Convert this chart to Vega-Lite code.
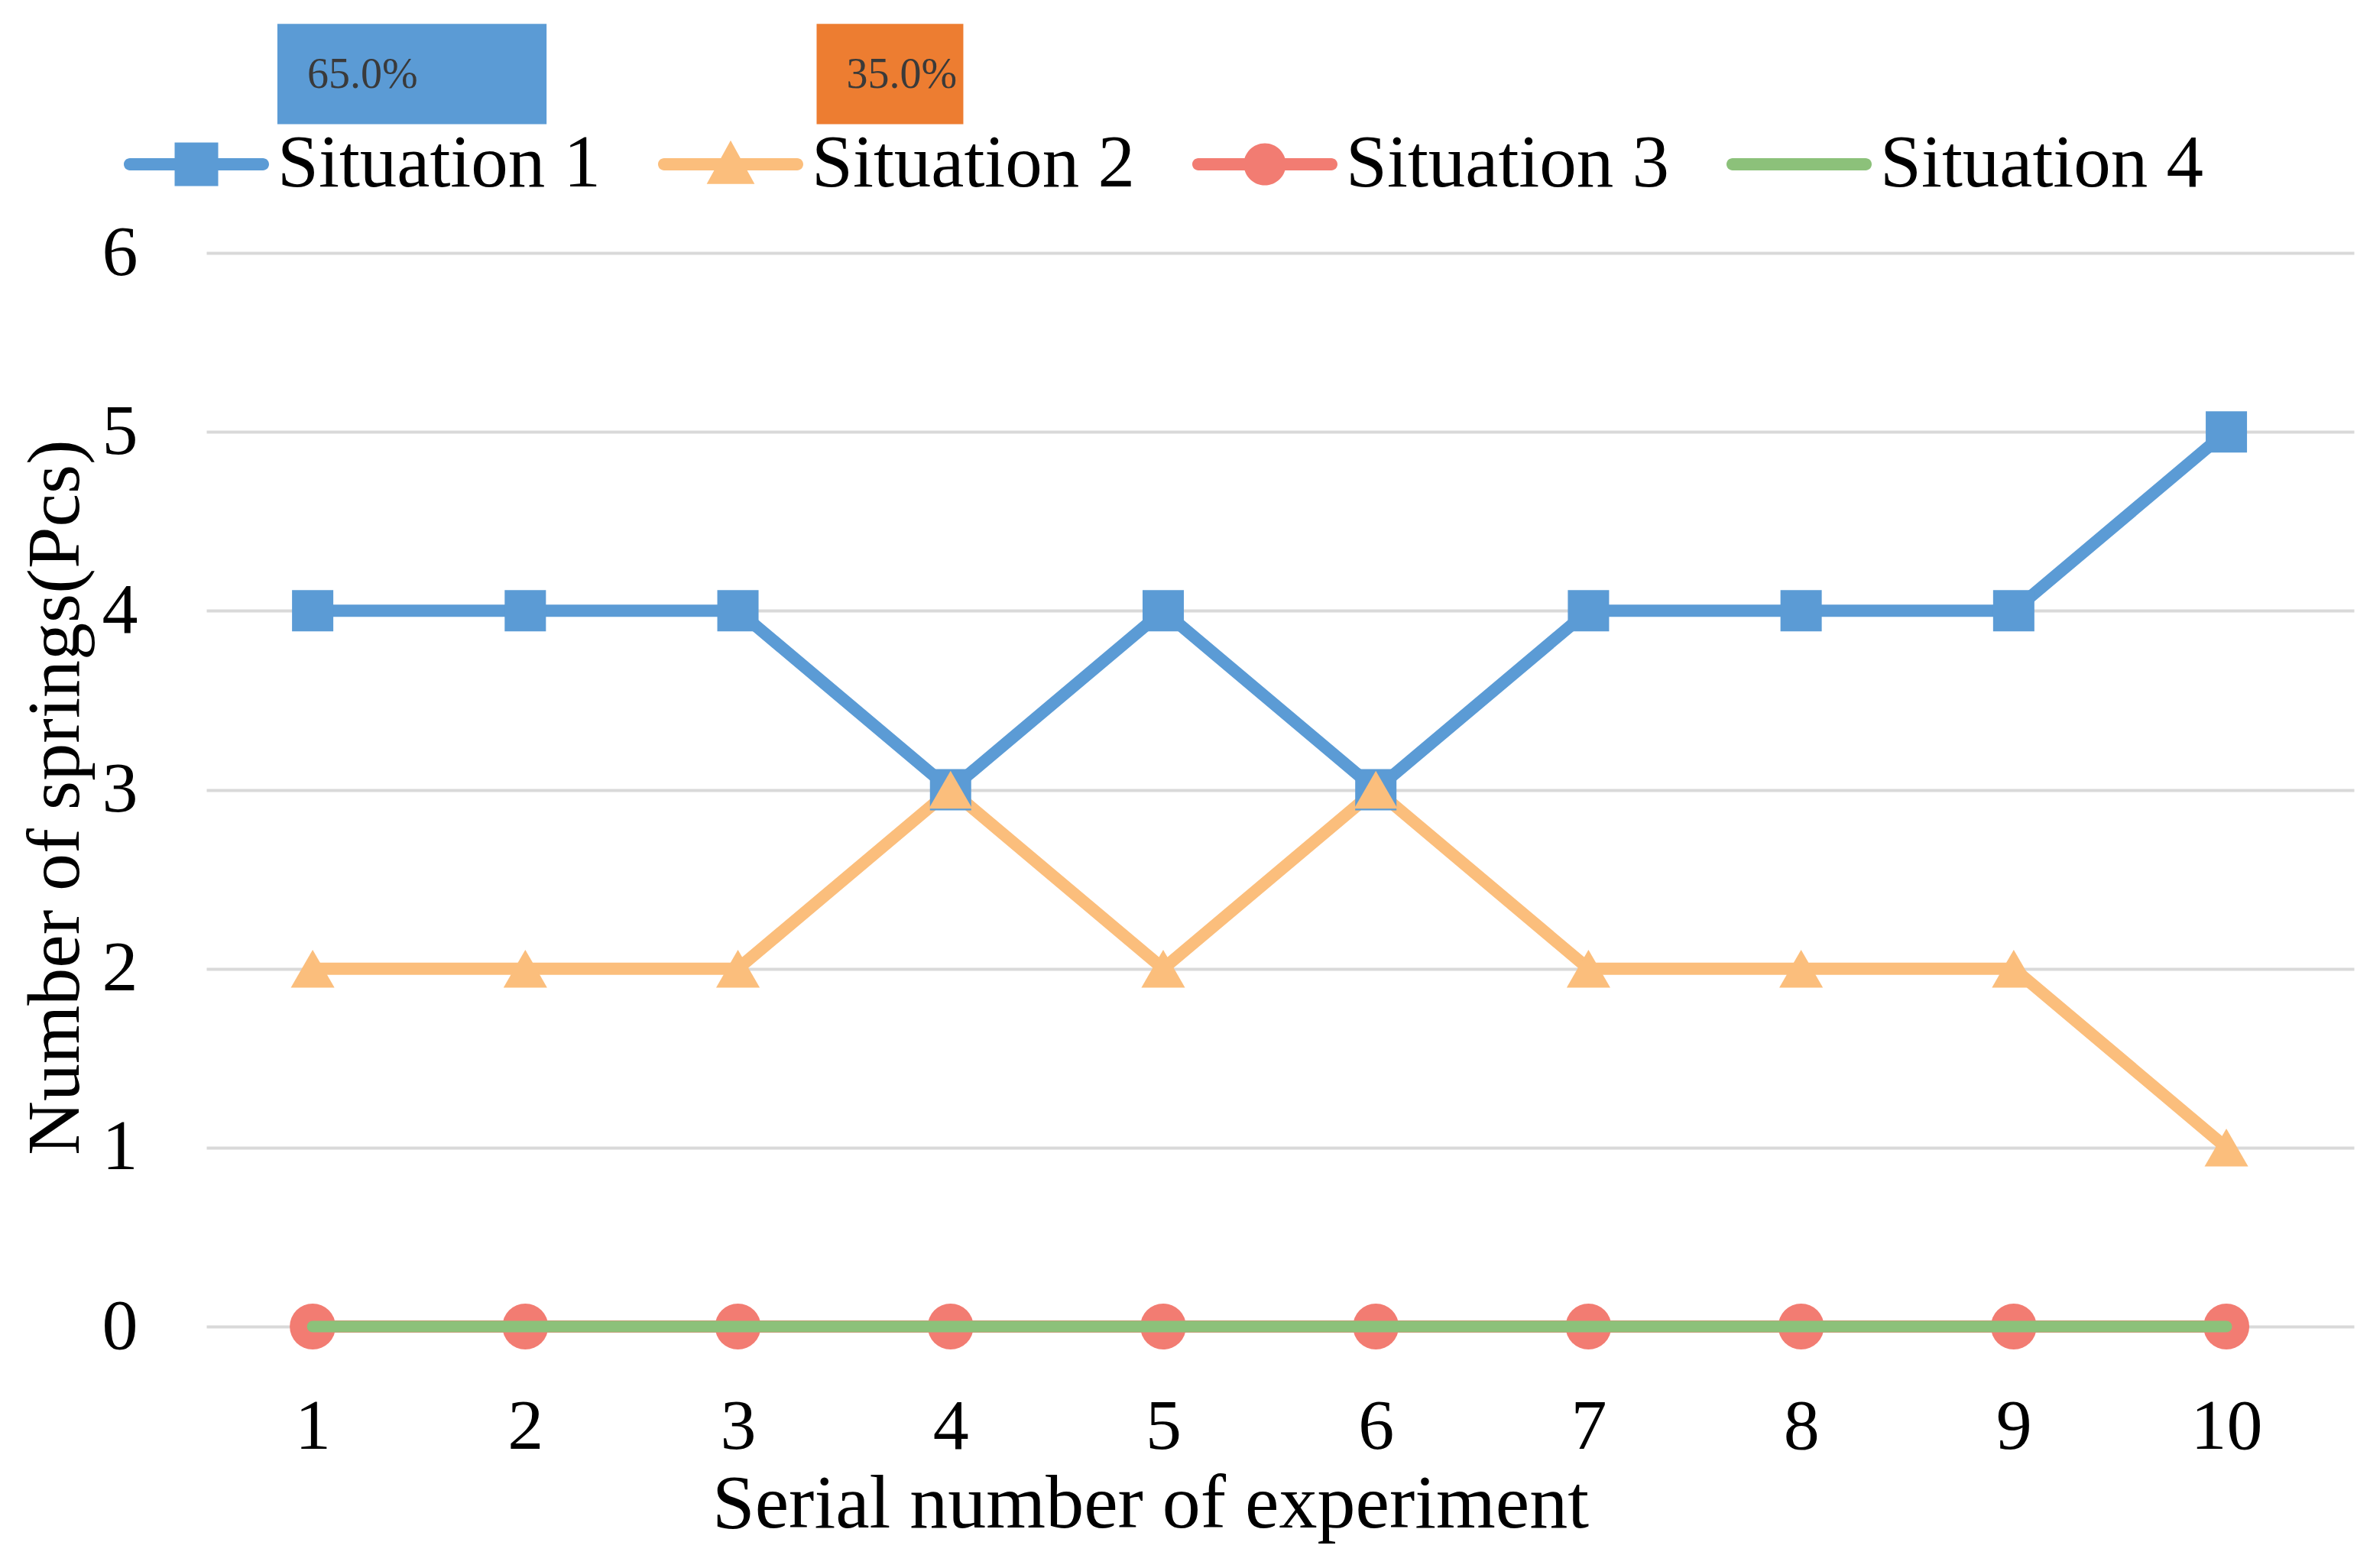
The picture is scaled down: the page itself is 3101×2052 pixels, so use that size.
{
  "$schema": "https://vega.github.io/schema/vega-lite/v6.json",
  "autosize": {"type": "none"},
  "padding": {"left": 270, "top": 331, "right": 21, "bottom": 316},
  "width": 2810,
  "height": 1405,
  "background": "white",
  "config": {
    "view": {"stroke": null},
    "font": "Liberation Serif",
    "axis": {"labelFont": "Liberation Serif", "titleFont": "Liberation Serif", "labelColor": "black", "titleColor": "black", "titleFontWeight": "normal"},
    "legend": {"labelFont": "Liberation Serif"}
  },
  "datasets": {
    "series": [
      {"experiment": 1, "situation": "Situation 1", "springs": 4},
      {"experiment": 2, "situation": "Situation 1", "springs": 4},
      {"experiment": 3, "situation": "Situation 1", "springs": 4},
      {"experiment": 4, "situation": "Situation 1", "springs": 3},
      {"experiment": 5, "situation": "Situation 1", "springs": 4},
      {"experiment": 6, "situation": "Situation 1", "springs": 3},
      {"experiment": 7, "situation": "Situation 1", "springs": 4},
      {"experiment": 8, "situation": "Situation 1", "springs": 4},
      {"experiment": 9, "situation": "Situation 1", "springs": 4},
      {"experiment": 10, "situation": "Situation 1", "springs": 5},
      {"experiment": 1, "situation": "Situation 2", "springs": 2},
      {"experiment": 2, "situation": "Situation 2", "springs": 2},
      {"experiment": 3, "situation": "Situation 2", "springs": 2},
      {"experiment": 4, "situation": "Situation 2", "springs": 3},
      {"experiment": 5, "situation": "Situation 2", "springs": 2},
      {"experiment": 6, "situation": "Situation 2", "springs": 3},
      {"experiment": 7, "situation": "Situation 2", "springs": 2},
      {"experiment": 8, "situation": "Situation 2", "springs": 2},
      {"experiment": 9, "situation": "Situation 2", "springs": 2},
      {"experiment": 10, "situation": "Situation 2", "springs": 1},
      {"experiment": 1, "situation": "Situation 3", "springs": 0},
      {"experiment": 2, "situation": "Situation 3", "springs": 0},
      {"experiment": 3, "situation": "Situation 3", "springs": 0},
      {"experiment": 4, "situation": "Situation 3", "springs": 0},
      {"experiment": 5, "situation": "Situation 3", "springs": 0},
      {"experiment": 6, "situation": "Situation 3", "springs": 0},
      {"experiment": 7, "situation": "Situation 3", "springs": 0},
      {"experiment": 8, "situation": "Situation 3", "springs": 0},
      {"experiment": 9, "situation": "Situation 3", "springs": 0},
      {"experiment": 10, "situation": "Situation 3", "springs": 0},
      {"experiment": 1, "situation": "Situation 4", "springs": 0},
      {"experiment": 2, "situation": "Situation 4", "springs": 0},
      {"experiment": 3, "situation": "Situation 4", "springs": 0},
      {"experiment": 4, "situation": "Situation 4", "springs": 0},
      {"experiment": 5, "situation": "Situation 4", "springs": 0},
      {"experiment": 6, "situation": "Situation 4", "springs": 0},
      {"experiment": 7, "situation": "Situation 4", "springs": 0},
      {"experiment": 8, "situation": "Situation 4", "springs": 0},
      {"experiment": 9, "situation": "Situation 4", "springs": 0},
      {"experiment": 10, "situation": "Situation 4", "springs": 0}
    ],
    "shares": [
      {"box": "Situation 1", "share": 0.65, "x_start": 0.834, "x_end": 2.1, "y_top": 7.28, "y_bottom": 6.72},
      {"box": "Situation 2", "share": 0.35, "x_start": 3.37, "x_end": 4.06, "y_top": 7.28, "y_bottom": 6.72}
    ]
  },
  "layer": [
    {
      "data": {"name": "series"},
      "transform": [{"filter": "datum.situation !== 'Situation 4'"}],
      "mark": {"type": "line", "strokeWidth": 16, "strokeCap": "round", "strokeJoin": "round"},
      "encoding": {
        "x": {
          "field": "experiment", "type": "quantitative",
          "scale": {"domain": [0.5, 10.6], "nice": false, "zero": false},
          "axis": {
            "values": [1, 2, 3, 4, 5, 6, 7, 8, 9, 10], "format": "d",
            "domain": false, "ticks": false, "grid": false,
            "labelFontSize": 94, "labelPadding": 85, "labelOverlap": false,
            "title": "Serial number of experiment", "titleFontSize": 100,
            "titleX": 1235, "titleY": 262, "titleBaseline": "alphabetic", "titleAlign": "center"
          }
        },
        "y": {
          "field": "springs", "type": "quantitative",
          "scale": {"domain": [0, 6], "nice": false},
          "axis": {
            "values": [0, 1, 2, 3, 4, 5, 6], "format": "d",
            "domain": false, "ticks": false, "grid": true,
            "gridColor": "#D9D9D9", "gridWidth": 4,
            "labelFontSize": 94, "labelPadding": 90,
            "title": "Number of springs(Pcs)", "titleFontSize": 98,
            "titleX": -168, "titleY": 712, "titleBaseline": "alphabetic", "titleAlign": "center", "titleAngle": -90
          }
        },
        "color": {
          "field": "situation", "type": "nominal",
          "scale": {
            "domain": ["Situation 1", "Situation 2", "Situation 3", "Situation 4"],
            "range": ["#5B9BD5", "#FBBE7C", "#F27C72", "#8CC17A"]
          },
          "legend": {
            "title": null, "orient": "none", "direction": "horizontal", "columns": 4,
            "legendX": -108, "legendY": -211, "padding": 0,
            "labelFontSize": 97, "labelColor": "black", "labelOffset": 11, "labelLimit": 0,
            "columnPadding": 73, "symbolSize": 36100, "symbolStrokeWidth": 0,
            "encode": {
              "symbols": {
                "update": {
                  "shape": {"signal": "datum.value === 'Situation 1' ? 'M-0.916,-0.084H0.916A0.084,0.084 0 0,1 0.916,0.084H-0.916A0.084,0.084 0 0,1 -0.916,-0.084Z M-0.3,-0.3H0.3V0.3H-0.3Z' : datum.value === 'Situation 2' ? 'M-0.916,-0.084H0.916A0.084,0.084 0 0,1 0.916,0.084H-0.916A0.084,0.084 0 0,1 -0.916,-0.084Z M0,-0.33L0.33,0.27H-0.33Z' : datum.value === 'Situation 3' ? 'M-0.916,-0.084H0.916A0.084,0.084 0 0,1 0.916,0.084H-0.916A0.084,0.084 0 0,1 -0.916,-0.084Z M-0.29,0A0.29,0.29 0 1,1 0.29,0A0.29,0.29 0 1,1 -0.29,0Z' : 'M-0.916,-0.084H0.916A0.084,0.084 0 0,1 0.916,0.084H-0.916A0.084,0.084 0 0,1 -0.916,-0.084Z'"},
                  "fill": {"signal": "datum.value === 'Situation 1' ? '#5B9BD5' : datum.value === 'Situation 2' ? '#FBBE7C' : datum.value === 'Situation 3' ? '#F27C72' : '#8CC17A'"},
                  "stroke": {"value": "transparent"},
                  "strokeWidth": {"value": 0},
                  "opacity": {"value": 1}
                }
              }
            }
          }
        }
      }
    },
    {
      "data": {"name": "series"},
      "transform": [{"filter": "datum.situation !== 'Situation 4'"}],
      "mark": {"type": "point", "filled": true, "opacity": 1, "strokeWidth": 0},
      "encoding": {
        "x": {"field": "experiment", "type": "quantitative"},
        "y": {"field": "springs", "type": "quantitative"},
        "color": {"field": "situation", "type": "nominal"},
        "shape": {
          "field": "situation", "type": "nominal",
          "scale": {"domain": ["Situation 1", "Situation 2", "Situation 3"], "range": ["square", "triangle-up", "circle"]},
          "legend": null
        },
        "size": {
          "field": "situation", "type": "nominal",
          "scale": {"domain": ["Situation 1", "Situation 2", "Situation 3"], "range": [2916, 3600, 1963]},
          "legend": null
        }
      }
    },
    {
      "data": {"name": "series"},
      "transform": [{"filter": "datum.situation === 'Situation 4'"}],
      "mark": {"type": "line", "strokeWidth": 15, "strokeCap": "round", "strokeJoin": "round"},
      "encoding": {
        "x": {"field": "experiment", "type": "quantitative"},
        "y": {"field": "springs", "type": "quantitative"},
        "color": {"field": "situation", "type": "nominal"}
      }
    },
    {
      "data": {"name": "shares"},
      "mark": {"type": "rect", "opacity": 1},
      "encoding": {
        "x": {"field": "x_start", "type": "quantitative"},
        "x2": {"field": "x_end"},
        "y": {"field": "y_top", "type": "quantitative"},
        "y2": {"field": "y_bottom"},
        "fill": {
          "field": "box", "type": "nominal",
          "scale": {"domain": ["Situation 1", "Situation 2"], "range": ["#5B9BD5", "#ED7D31"]},
          "legend": null
        }
      }
    },
    {
      "data": {"name": "shares"},
      "mark": {"type": "text", "align": "left", "baseline": "middle", "dx": 39, "dy": -64, "fontSize": 56, "font": "Liberation Serif", "color": "#3A3A3A"},
      "encoding": {
        "x": {"field": "x_start", "type": "quantitative"},
        "y": {"field": "y_bottom", "type": "quantitative"},
        "text": {"field": "share", "type": "quantitative", "format": ".1%"}
      }
    }
  ]
}
